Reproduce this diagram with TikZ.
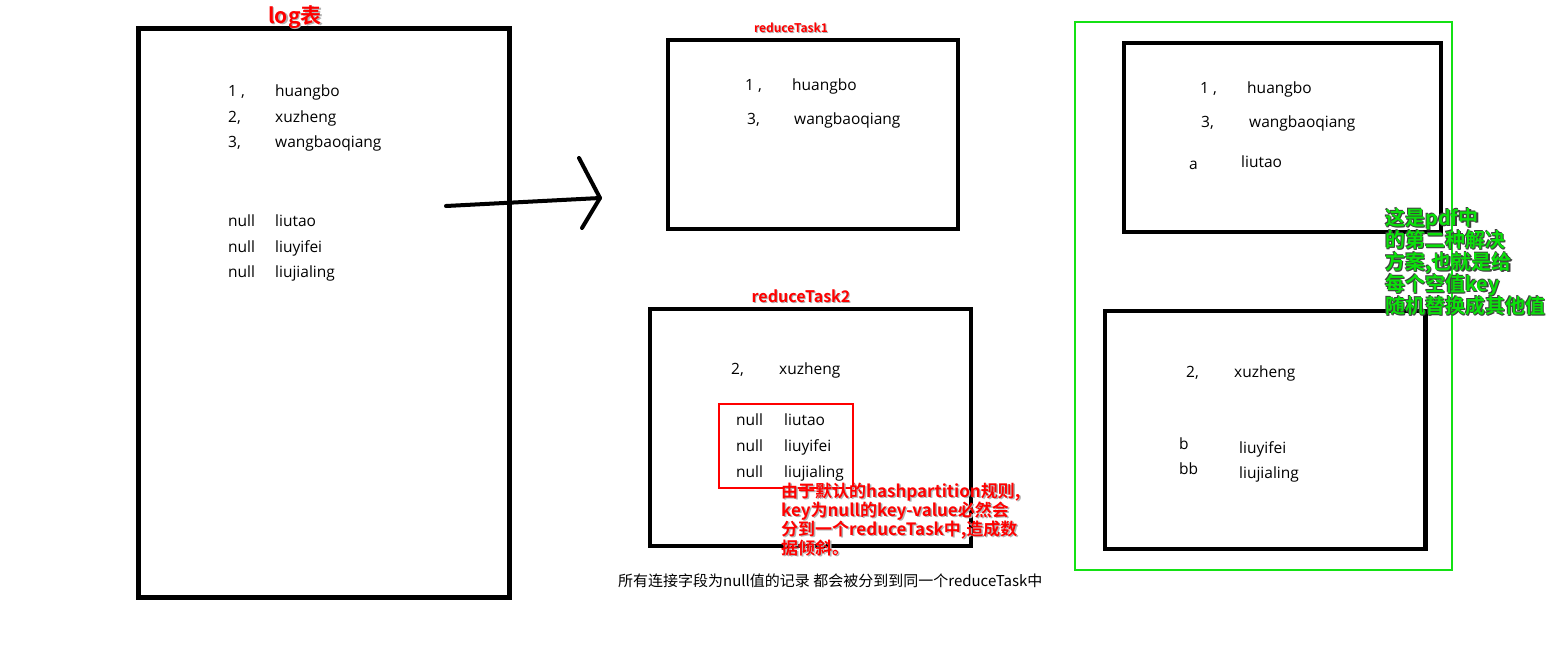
\documentclass[tikz,border=0pt]{standalone}
\usepackage{fontspec}
\setmainfont{Open Sans}
\newfontfamily\cjk{Noto Sans CJK SC}[BoldFont={Noto Sans CJK SC Bold}]
\definecolor{gbox}{RGB}{20,225,20}
\definecolor{gtxt}{RGB}{10,225,10}
\tikzset{
  frame/.style={draw=black,line width=4.5pt,outer sep=0pt,anchor=north west},
  txt/.style={anchor=base west,inner sep=0pt,font=\fontsize{15.5}{18}\selectfont,text=black},
  redlbl/.style={inner sep=0pt,text=red,font=\cjk\bfseries},
  shadowlbl/.style={inner sep=0pt,text=black!30,font=\cjk\bfseries},
  greenfont/.style={anchor=north west,inner sep=0pt,align=left,font=\cjk\bfseries\fontsize{20}{22}\selectfont},
  notefont/.style={anchor=north west,align=left,font=\cjk\bfseries\fontsize{17}{19}\selectfont},
}
\begin{document}
\begin{tikzpicture}[x=1pt,y=-1pt]
\useasboundingbox[fill=white] (0,0) rectangle (1565,665);

% boxes
\node[frame,minimum width=371pt,minimum height=569pt] (logbox) at (138.5,28.3) {};
\node[frame,minimum width=290pt,minimum height=189pt] (rt1) at (668,40) {};
\node[frame,minimum width=321pt,minimum height=237pt] (rt2) at (650,309) {};
\node[frame,minimum width=317pt,minimum height=189pt] (rb1) at (1124,43) {};
\node[frame,minimum width=320.5pt,minimum height=238pt] (rb2) at (1105,311) {};
\node[draw=gbox,line width=2pt,outer sep=0pt,anchor=north west,minimum width=377pt,minimum height=548pt] (gbx) at (1075,22) {};
\node[draw=red,line width=1.6pt,outer sep=0pt,anchor=north west,minimum width=134pt,minimum height=84pt] (redbx) at (719,404) {};

% titles
\node[shadowlbl,font=\cjk\bfseries\fontsize{21}{24}\selectfont] (logtS) at (296.5,18.5) {log表};
\node[redlbl,font=\cjk\bfseries\fontsize{21}{24}\selectfont] (logt) at (295,17) {log表};
\node[shadowlbl,font=\cjk\bfseries\fontsize{12}{14}\selectfont] (rt1lS) at (792,29) {reduceTask1};
\node[redlbl,font=\cjk\bfseries\fontsize{12}{14}\selectfont] (rt1l) at (791,28) {reduceTask1};
\node[shadowlbl,font=\cjk\bfseries\fontsize{16}{18}\selectfont] (rt2lS) at (802,297.5) {reduceTask2};
\node[redlbl,font=\cjk\bfseries\fontsize{16}{18}\selectfont] (rt2l) at (801,296) {reduceTask2};

% log table
\node[txt] (l1a) at (228,96) {1 ,};  \node[txt] (l1b) at (275,96) {huangbo};
\node[txt] (l2a) at (228,122) {2,};  \node[txt] (l2b) at (275,122) {xuzheng};
\node[txt] (l3a) at (228,147) {3,};  \node[txt] (l3b) at (275,147) {wangbaoqiang};
\node[txt] (l4a) at (228,226) {null}; \node[txt] (l4b) at (275,226) {liutao};
\node[txt] (l5a) at (228,252) {null}; \node[txt] (l5b) at (275,252) {liuyifei};
\node[txt] (l6a) at (228,277) {null}; \node[txt] (l6b) at (275,277) {liujialing};

% arrow
\coordinate (arS) at (446,206);
\coordinate (arT) at (600,198);
\coordinate (arU) at (579,158);
\coordinate (arD) at (582,228);
\draw[line width=4pt,line cap=round] (arS) -- (arT);
\draw[line width=4pt,line cap=round,line join=round] (arU) -- (arT) -- (arD);

% reduceTask1
\node[txt] (a1a) at (745,90) {1 ,};  \node[txt] (a1b) at (792,90) {huangbo};
\node[txt] (a2a) at (747,124) {3,};  \node[txt] (a2b) at (794,124) {wangbaoqiang};

% reduceTask2
\node[txt] (b1a) at (731,374) {2,};  \node[txt] (b1b) at (779,374) {xuzheng};
\node[txt] (b2a) at (736,425) {null}; \node[txt] (b2b) at (784,425) {liutao};
\node[txt] (b3a) at (736,451) {null}; \node[txt] (b3b) at (784,451) {liuyifei};
\node[txt] (b4a) at (736,477) {null}; \node[txt] (b4b) at (784,477) {liujialing};

% red annotation
\node[notefont,inner sep=0pt,text=black!30] (noteS) at (782.5,484)
 {由于默认的hashpartition规则,\\key为null的key-value必然会\\分到一个reduceTask中,造成数\\据倾斜。};
\node[notefont,inner sep=0pt,text=red] (note) at (781,482.5)
 {由于默认的hashpartition规则,\\key为null的key-value必然会\\分到一个reduceTask中,造成数\\据倾斜。};

% bottom caption
\node[anchor=west,inner sep=0pt,font=\cjk\fontsize{15}{18}\selectfont] (cap) at (618,580.5)
 {所有连接字段为null值的记录 都会被分到到同一个reduceTask中};

% right box 1
\node[txt] (c1a) at (1200,93) {1 ,};  \node[txt] (c1b) at (1247,93) {huangbo};
\node[txt] (c2a) at (1201,127) {3,};  \node[txt] (c2b) at (1249,127) {wangbaoqiang};
\node[txt] (c3a) at (1189,169) {a};   \node[txt] (c3b) at (1241,167) {liutao};

% right box 2
\node[txt] (d1a) at (1186,377) {2,};  \node[txt] (d1b) at (1234,377) {xuzheng};
\node[txt] (d2a) at (1179,449) {b};   \node[txt] (d2b) at (1239,453) {liuyifei};
\node[txt] (d3a) at (1179,474) {bb};  \node[txt] (d3b) at (1239,478) {liujialing};

% green note with dark edge
\foreach \dx/\dy [count=\k] in {-0.7/-0.7,0.7/0.7,1.6/1.6} {
  \node[greenfont,text=black!75] (gS\k) at (1385+\dx,208+\dy)
   {这是pdf中\\的第二种解决\\方案,也就是给\\每个空值key\\随机替换成其他值};
}
\node[greenfont,text=gtxt] (gnote) at (1385,208)
 {这是pdf中\\的第二种解决\\方案,也就是给\\每个空值key\\随机替换成其他值};
\end{tikzpicture}
\end{document}
